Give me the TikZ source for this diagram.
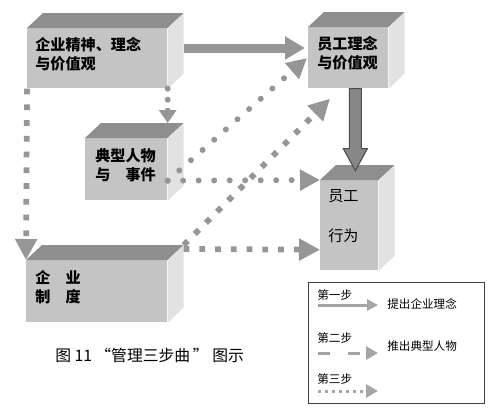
\documentclass[tikz,border=0pt]{standalone}
\usepackage{fontspec}
\setmainfont{Noto Sans CJK SC}
\usetikzlibrary{arrows.meta,calc}
\definecolor{frontgray}{RGB}{196,196,196}
\definecolor{topgray}{RGB}{142,142,142}
\definecolor{sidegray}{RGB}{226,226,226}
\definecolor{arrgray}{RGB}{150,150,150}
\definecolor{leggray}{RGB}{165,165,165}
\begin{document}
\begin{tikzpicture}[x=0.02cm,y=-0.02cm,
    front/.style={fill=frontgray,inner sep=0pt,anchor=north west},
    boxtxt/.style={font=\bfseries\fontsize{8.6pt}{10.8pt}\selectfont,anchor=west,inner sep=0pt,align=left},
    plaintxt/.style={font=\fontsize{8.6pt}{10pt}\selectfont,anchor=west,inner sep=0pt},
    legtxt/.style={font=\fontsize{6.6pt}{8pt}\selectfont,anchor=west,inner sep=0pt},
    solidarr/.style={draw=arrgray,line width=0.18cm,-{Triangle[length=0.4cm,width=0.44cm]}},
    rounddots/.style={draw=arrgray,line width=0.12cm,line cap=round,dash pattern=on 0pt off 0.31cm,-{Triangle[length=0.4cm,width=0.4cm]}},
    squaredots/.style={draw=arrgray,line width=0.115cm,dash pattern=on 0.115cm off 0.2cm,-{Triangle[length=0.42cm,width=0.42cm]}},
    blockarr/.style={fill=arrgray!90!black,draw=black!70,line width=0.6pt}]
    \useasboundingbox (0,0) rectangle (500,410);

    \node[front,minimum width=2.8cm,minimum height=1.2cm] (jingshen) at (27,28) {};
    \node[front,minimum width=1.64cm,minimum height=1.24cm] (renwu) at (85,138) {};
    \node[front,minimum width=2.82cm,minimum height=1.24cm] (zhidu) at (26,260) {};
    \node[front,minimum width=1.6cm,minimum height=1.22cm] (linian) at (308,27) {};
    \node[front,minimum width=1.16cm,minimum height=1.8cm] (xingwei) at (320,180) {};
    \foreach \b in {jingshen,renwu,zhidu,linian,xingwei} {
        \fill[topgray] (\b.north west) -- ++(16,-15) -- ($(\b.north east)+(16,-15)$) -- (\b.north east) -- cycle;
        \fill[sidegray] (\b.north east) -- ++(16,-15) -- ($(\b.south east)+(16,-15)$) -- (\b.south east) -- cycle;
    }

    \node[boxtxt] (t1) at (35,54) {企业精神、理念\\与价值观};
    \node[boxtxt] (t2) at (95,165) {典型人物\\与\hspace{1em}事件};
    \node[boxtxt] (t3) at (35,287) {企\hspace{1em}业\\制\hspace{1em}度};
    \node[boxtxt] (t4) at (317,53) {员工理念\\与价值观};
    \node[plaintxt] (t5) at (328,196) {员工};
    \node[plaintxt] (t6) at (328,236) {行为};

    \coordinate (rw) at ($(renwu.south east)+(0,-20)$);
    \draw[solidarr] ($(jingshen.north east)+(16,20)$) -- ($(linian.north west)+(-3,21)$);
    \draw[rounddots,dash pattern=on 0pt off 0.22cm,-{Triangle[length=0.26cm,width=0.34cm]}] (jingshen.south east) -- ($(renwu.north east)+(0,-15)$);
    \draw[squaredots] (jingshen.south west) -- (zhidu.north west);
    \draw[rounddots] (rw) -- ($(linian.north west)+(-1,31)$);
    \draw[rounddots] (rw) -- (xingwei.north west);
    \draw[squaredots] ($(zhidu.north east)+(16,-15)$) -- ($(linian.south west)+(22,10)$);
    \draw[squaredots] ($(zhidu.north east)+(16,-11)$) -- ($(xingwei.south west)+(0,-21)$);
    \draw[blockarr] ($(linian.south)+(1,0)$) -- ++(0,60) -- ++(-6,0) -- ++(12,22) -- ++(12,-22) -- ++(-6,0) -- ++(0,-60) -- cycle;

    \node[anchor=west,inner sep=0pt,font=\fontsize{9pt}{10pt}\selectfont] (cap) at (55,355) {图 11\makebox[1.2em][r]{“}管理三步曲\makebox[1.4em][l]{\,”}图示};

    \node[draw=black!75,line width=0.6pt,inner sep=0pt,anchor=north west,minimum width=3.52cm,minimum height=2.42cm] (legend) at (308,282) {};
    \node[legtxt] (s1) at (317,295) {第一步};
    \node[legtxt] (d1) at (387,304) {提出企业理念};
    \node[legtxt] (s2) at (317,338) {第二步};
    \node[legtxt] (d2) at (387,346) {推出典型人物};
    \node[legtxt] (s3) at (317,379) {第三步};
    \coordinate (l1a) at (318,305);
    \coordinate (l1b) at (378,305);
    \coordinate (l2a) at (318,353);
    \coordinate (l2b) at (378,353);
    \coordinate (l3a) at (318,391);
    \coordinate (l3b) at (378,391);
    \draw[leggray,line width=0.06cm,-{Triangle[length=0.22cm,width=0.22cm]}] (l1a) -- (l1b);
    \draw[leggray,line width=0.06cm,dash pattern=on 0.24cm off 0.36cm,-{Triangle[length=0.24cm,width=0.26cm]}] (l2a) -- (l2b);
    \draw[leggray,line width=0.06cm,dash pattern=on 0.06cm off 0.08cm,-{Triangle[length=0.24cm,width=0.26cm]}] (l3a) -- (l3b);
\end{tikzpicture}
\end{document}
